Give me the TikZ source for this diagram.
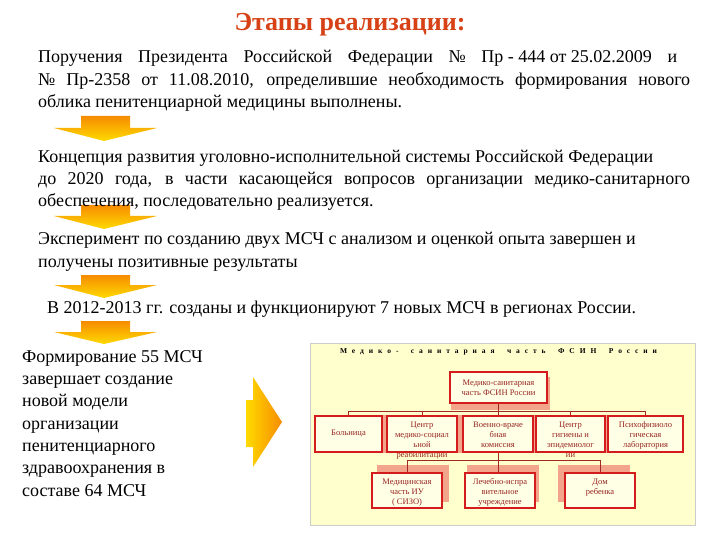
\documentclass[tikz,border=0pt]{standalone}
\usepackage{fontspec}
\setmainfont{Liberation Serif}
\usepackage{tikz}
\usetikzlibrary{backgrounds}
\definecolor{titlered}{RGB}{214,66,22}
\definecolor{panelbg}{RGB}{255,255,206}
\definecolor{boxred}{RGB}{212,28,28}
\definecolor{boxtext}{RGB}{150,35,35}
\definecolor{linkred}{RGB}{160,40,40}
\definecolor{shadowpink}{RGB}{243,165,140}
\definecolor{arroworange}{RGB}{246,140,0}
\definecolor{arrowyellow}{RGB}{255,218,0}
\newcommand{\boxlines}[1]{\smash{\begin{tabular}[t]{@{}c@{}}#1\end{tabular}}}

\begin{document}
\begin{tikzpicture}[
    x=1pt, y=-1pt,
    bodytext/.style={anchor=base west, inner sep=0pt, align=left,
        font=\fontsize{18}{22.3}\selectfont},
    downarrow/.style={top color=arroworange, bottom color=arrowyellow},
    orgbox/.style={draw=boxred, line width=2.6pt, fill=panelbg!50!white,
        text=boxtext, inner sep=3pt, align=center,
        font=\fontsize{8.5}{10}\selectfont},
    rowtwo/.style={minimum width=#1, minimum height=36pt},
    rowthree/.style={minimum width=#1, minimum height=35pt},
    topalign/.style={text height=8pt, text depth=#1},
    link/.style={draw=linkred, line width=0.7pt},
    shadowbox/.style={fill=shadowpink}
]
\useasboundingbox (0,0) rectangle (720,540);

% ---------------- ЗАГОЛОВОК ----------------

\node[
    anchor=base,
    text=titlered,
    font=\bfseries\fontsize{26}{30}\selectfont
] (title) at (350,31) {Этапы реализации:};

% ---------------- СТРЕЛКИ ----------------

% Стрелки вниз
\shade[downarrow] (81,116) -- (130,116) -- (130,128) -- (157,128)
    -- (104,141) -- (54,128) -- (81,128) -- cycle;
\shade[downarrow] (81,205) -- (130,205) -- (130,216) -- (157,216)
    -- (104,229) -- (54,216) -- (81,216) -- cycle;
\shade[downarrow] (81,275) -- (130,275) -- (130,285) -- (157,285)
    -- (104,298) -- (54,285) -- (81,285) -- cycle;
\shade[downarrow] (81,321) -- (130,321) -- (130,332) -- (157,332)
    -- (104,344) -- (54,332) -- (81,332) -- cycle;

% Стрелка вправо
\shade[
    left color=arrowyellow,
    right color=arroworange
] (246,400) -- (253,400) -- (253,377) -- (282,422)
    -- (253,467) -- (253,447) -- (246,447) -- cycle;

% ---------------- ТЕКСТ ----------------

% (опорная точка - базовая линия последней строки)
\node[bodytext] (order) at (38,107.5) {%
    \makebox[639pt][s]{Поручения Президента Российской Федерации № \mbox{Пр - 444 от 25.02.2009} и}\\
    \makebox[652pt][s]{№ Пр-2358 от 11.08.2010, определившие необходимость формирования нового}\\
    облика пенитенциарной медицины выполнены.};

\node[bodytext] (concept) at (38,207) {%
    Концепция развития уголовно-исполнительной системы Российской Федерации\\
    \makebox[652pt][s]{до 2020 года, в части касающейся вопросов организации медико-санитарного}\\
    обеспечения, последовательно реализуется.};

\node[bodytext] (experiment) at (38,267) {%
    Эксперимент по созданию двух МСЧ с анализом и оценкой опыта завершен и\\
    получены позитивные результаты};

\node[bodytext] (created) at (47,313.5) {%
    В 2012-2013 гг. созданы и функционируют 7 новых МСЧ в регионах России.};

\node[bodytext] (forming) at (22,496) {%
    Формирование 55 МСЧ\\
    завершает создание\\
    новой модели\\
    организации\\
    пенитенциарного\\
    здравоохранения в\\
    составе 64 МСЧ};

% ---------------- СТРУКТУРА МСЧ ----------------

\node[
    font=\bfseries\fontsize{7.5}{8}\selectfont
] (paneltitle) at (498.5,352) {\makebox[317pt][s]{М е д и к о - \quad с а н и т а р н а я \quad ч а с т ь \quad Ф С И Н \quad Р о с с и и}};

% Блоки
\node[orgbox, minimum width=97pt, minimum height=31pt] (msch) at (498.5,387.5)
    {Медико-санитарная\\часть ФСИН России};

\node[orgbox, rowtwo=67pt] (hosp) at (348.5,434) {Больница};
\node[orgbox, rowtwo=70pt, topalign=22pt] (rehab) at (422,434)
    {\boxlines{Центр\\медико-социал\\ьной\\реабилитации}};
\node[orgbox, rowtwo=70pt, topalign=22pt] (vvk) at (498,434)
    {\boxlines{Военно-враче\\бная\\комиссия}};
\node[orgbox, rowtwo=69pt, topalign=22pt] (hyg) at (570.5,434)
    {\boxlines{Центр\\гигиены и\\эпидемиолог\\ии}};
\node[orgbox, rowtwo=75pt, topalign=22pt] (psy) at (645.5,434)
    {\boxlines{Психофизиоло\\гическая\\лаборатория}};

\node[orgbox, rowthree=70pt, topalign=21pt] (mch) at (407,490.5)
    {\boxlines{Медицинская\\часть ИУ\\( СИЗО)}};
\node[orgbox, rowthree=70pt, topalign=21pt] (lpu) at (500,490.5)
    {\boxlines{Лечебно-испра\\вительное\\учреждение}};
\node[orgbox, rowthree=70pt, topalign=21pt] (dom) at (600,490.5)
    {\boxlines{Дом\\ребенка}};

% Фон и тени
\begin{scope}[on background layer]
\filldraw[
    fill=panelbg,
    draw=gray!40
] (310,343) rectangle (695,525);
\foreach \n/\dx/\dy in {msch/2/6, rehab/-5/0, vvk/-5/0, hyg/-5/0, psy/-5/0,
                        mch/6/-7, lpu/3/-7, dom/-6/-7}
    \fill[shadowbox] ([shift={(\dx,\dy)}]\n.south west)
        rectangle ([shift={(\dx,\dy)}]\n.north east);
\end{scope}

% Связи
\coordinate (busone) at (498.5,411);
\coordinate (bustwo) at (498,460);
\draw[link] (msch.south) -- (busone);
\foreach \n in {hosp, rehab, vvk, hyg, psy}
    \draw[link] (busone) -| (\n.north);
\draw[link] (vvk.south) -- (vvk.south |- lpu.north);
\foreach \n in {mch, dom}
    \draw[link] (bustwo) -| (\n.north);

\end{tikzpicture}
\end{document}
